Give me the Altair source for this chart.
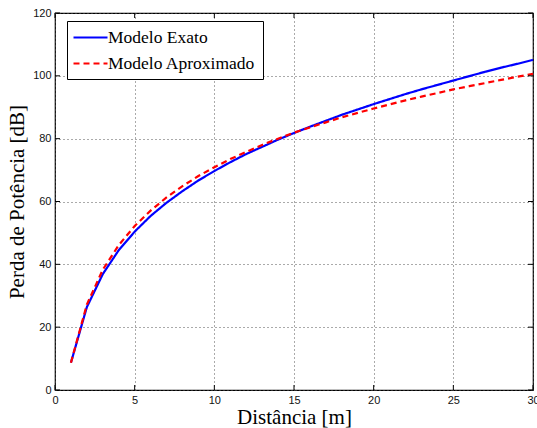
import altair as alt
import pandas as pd

distance = list(range(1, 31))
exact = [8.7, 26.4, 36.9, 44.5, 50.4, 55.4, 59.6, 63.3, 66.7, 69.7,
         72.5, 75.1, 77.4, 79.7, 81.8, 83.8, 85.7, 87.6, 89.3, 91.0,
         92.6, 94.2, 95.7, 97.1, 98.5, 99.9, 101.3, 102.6, 103.8, 105.1]
approx = [8.7, 27.2, 38.3, 46.1, 52.2, 57.1, 61.3, 64.9, 68.1, 70.9,
          73.5, 75.8, 78.0, 80.0, 81.9, 83.6, 85.2, 86.8, 88.2, 89.6,
          90.9, 92.2, 93.4, 94.5, 95.7, 96.7, 97.7, 98.7, 99.7, 100.6]
series_names = ["Modelo Exato", "Modelo Aproximado"]
x_ticks = [0, 5, 10, 15, 20, 25, 30]
y_ticks = [0, 20, 40, 60, 80, 100, 120]

rows = []
for d, e, a in zip(distance, exact, approx):
    rows.append({"d": d, "v": e, "s": series_names[0]})
    rows.append({"d": d, "v": a, "s": series_names[1]})
df = pd.DataFrame(rows)

W, H = 478, 377
TICK_FONT = "Liberation Sans"
SERIF = "Liberation Serif"

xs = alt.Scale(domain=[0, 30], nice=False, zero=False)
ys = alt.Scale(domain=[0, 120], nice=False)

xaxis = alt.Axis(values=x_ticks, title="Distância [m]", ticks=False, domain=False,
                 grid=True, gridDash=[1, 3], gridColor="#555555", gridWidth=1,
                 labelFont=TICK_FONT, labelFontSize=11, labelColor="#111111",
                 labelPadding=4, labelFlush=False,
                 titleFont=SERIF, titleFontSize=21, titleFontWeight="normal",
                 titleColor="black", titlePadding=1)
yaxis = alt.Axis(values=y_ticks, title="Perda de Potência [dB]", ticks=False, domain=False,
                 grid=True, gridDash=[1, 3], gridColor="#555555", gridWidth=1,
                 labelFont=TICK_FONT, labelFontSize=11, labelColor="#111111",
                 labelPadding=4, labelFlush=False,
                 titleFont=SERIF, titleFontSize=21, titleFontWeight="normal",
                 titleColor="black", titlePadding=5)

leg = alt.Legend(title=None, orient="none", legendX=12, legendY=8,
                 fillColor="white", strokeColor="black", padding=7,
                 symbolType="M-2,0H2", symbolSize=289, symbolStrokeWidth=2,
                 symbolOffset=7, labelFont=SERIF, labelFontSize=17.5,
                 labelColor="black", labelOffset=8, rowPadding=8)

lines = alt.Chart(df).mark_line(strokeWidth=2.2).encode(
    x=alt.X("d:Q", scale=xs, axis=xaxis),
    y=alt.Y("v:Q", scale=ys, axis=yaxis),
    color=alt.Color("s:N", scale=alt.Scale(domain=series_names, range=["#0000ff", "#ff0000"]),
                    legend=leg),
    strokeDash=alt.StrokeDash("s:N", scale=alt.Scale(domain=series_names, range=[[1, 0], [6, 4]]),
                              legend=leg),
)

tx = pd.DataFrame({"d": x_ticks})
ty = pd.DataFrame({"v": y_ticks})
bottom = alt.Chart(tx).mark_rule(color="black").encode(
    x=alt.X("d:Q", scale=xs, axis=xaxis), y=alt.value(H), y2=alt.value(H - 5))
top = alt.Chart(tx).mark_rule(color="black").encode(
    x=alt.X("d:Q", scale=xs, axis=xaxis), y=alt.value(0), y2=alt.value(5))
left = alt.Chart(ty).mark_rule(color="black").encode(
    y=alt.Y("v:Q", scale=ys, axis=yaxis), x=alt.value(0), x2=alt.value(5))
right = alt.Chart(ty).mark_rule(color="black").encode(
    y=alt.Y("v:Q", scale=ys, axis=yaxis), x=alt.value(W), x2=alt.value(W - 5))

chart = alt.layer(lines, bottom, top, left, right).properties(
    width=W, height=H,
    autosize=alt.AutoSizeParams(type="none"),
    padding={"left": 55, "top": 13, "right": 4, "bottom": 38},
    background="white",
).configure_view(stroke="black", strokeWidth=1.2)

chart.save("out.html", embed_options={"renderer": "svg", "actions": False})
